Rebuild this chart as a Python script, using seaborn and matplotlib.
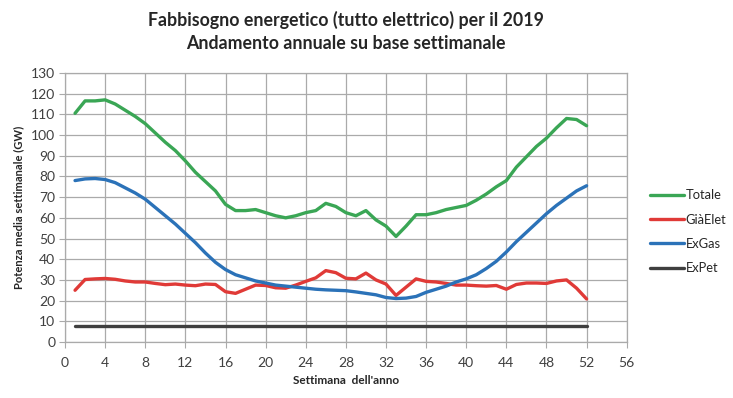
import matplotlib
matplotlib.use("Agg")
import matplotlib.pyplot as plt
import numpy as np
import pandas as pd
import seaborn as sns

weeks = list(range(1, 53))

totale = [110.5, 116.5, 116.5, 117, 115, 112, 109, 105.5, 101, 96.5,
          92.5, 87.5, 82, 77.5, 73, 66.5, 63.5, 63.5, 64, 62.5,
          61, 60, 61, 62.5, 63.5, 67, 65.5, 62.5, 61, 63.5,
          59, 56, 51, 56, 61.5, 61.5, 62.5, 64, 65, 66,
          68.5, 71.5, 75, 78, 84.5, 89.5, 94.5, 98.5, 103.5, 108,
          107.5, 104.5]

gia_elet = [25, 30.2, 30.5, 30.7, 30.3, 29.5, 29, 29, 28.3, 27.7,
            28, 27.5, 27.2, 28, 27.8, 24.3, 23.5, 25.5, 27.5, 27.3,
            26.2, 26, 27.5, 29.3, 31, 34.5, 33.5, 30.8, 30.5, 33.3,
            30, 28, 22.5, 26.5, 30.5, 29.3, 29, 28.3, 27.5, 27.5,
            27.2, 27, 27.3, 25.5, 27.8, 28.5, 28.5, 28.3, 29.5, 30,
            26, 20.8]

ex_gas = [78, 78.8, 79, 78.5, 77, 74.5, 72, 69, 65, 61,
          57, 52.5, 48, 43, 38.5, 35, 32.5, 31, 29.5, 28.5,
          27.5, 27, 26.5, 26, 25.5, 25.2, 25, 24.8, 24.2, 23.5,
          22.8, 21.5, 21, 21.2, 22, 24, 25.5, 27, 29, 30.5,
          32.5, 35.5, 39, 43.5, 48.5, 53, 57.5, 62, 66, 69.5,
          73, 75.5]

ex_pet = [7.5] * 52

series_names = ["Totale", "GiàElet", "ExGas", "ExPet"]
colors = ["#3aa655", "#e03a37", "#2b72b8", "#3f3f3f"]

df = pd.DataFrame({"week": weeks, "Totale": totale, "GiàElet": gia_elet,
                   "ExGas": ex_gas, "ExPet": ex_pet})
long = df.melt(id_vars="week", var_name="serie", value_name="GW")

sns.set_style("whitegrid")
plt.rcParams['font.family'] = ['Lato', 'DejaVu Sans']

fig = plt.figure(figsize=(7.33, 3.98), dpi=100)
ax = fig.add_axes([0.0887, 0.1407, 0.7663, 0.676])

sns.lineplot(data=long, x="week", y="GW", hue="serie", hue_order=series_names,
             palette=colors, linewidth=2.4, ax=ax)

ax.set_xlim(0, 56)
ax.set_ylim(0, 130)
ax.set_xticks(np.arange(0, 57, 4))
ax.set_yticks(np.arange(0, 131, 10))
ax.grid(True, color="#aaaaaa", linewidth=0.9)
for s in ax.spines.values():
    s.set_color("#aaaaaa")
    s.set_linewidth(0.9)
ax.tick_params(axis="both", labelsize=10, labelcolor="#404040", length=4,
               color="#aaaaaa", direction="out")
ax.tick_params(axis="x", bottom=True, pad=7)
ax.tick_params(axis="y", left=True, pad=3)

ax.set_xlabel("Settimana  dell'anno", fontsize=8.5, fontweight="bold", labelpad=4)
ax.set_ylabel("Potenza media settimanale (GW)", fontsize=8, fontweight="bold", labelpad=5)
ax.set_title("Fabbisogno energetico (tutto elettrico) per il 2019\nAndamento annuale su base settimanale",
             fontsize=12.8, fontweight="bold", pad=17, linespacing=1.45)

leg = ax.legend(loc="center left", bbox_to_anchor=(1.02, 0.41), frameon=False,
                fontsize=9.3, handlelength=2.7, handletextpad=0.1, labelspacing=0.95)

fig.savefig("out.png", dpi=100)
